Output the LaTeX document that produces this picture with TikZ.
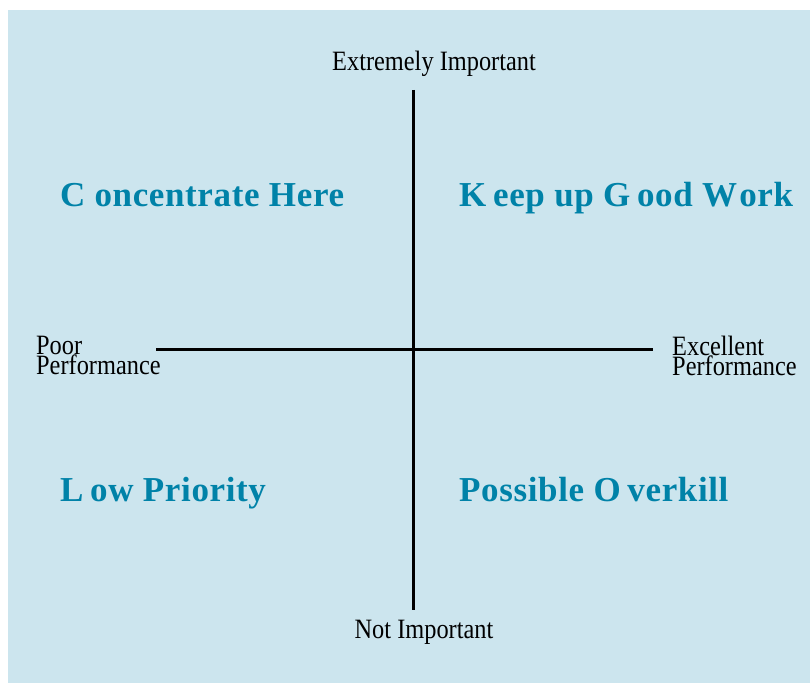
\documentclass[tikz,border=0pt]{standalone}
\usepackage{fontspec}
\setmainfont{Liberation Serif}
\newfontfamily\axisfont[FakeStretch=0.87]{Liberation Serif}
\newfontfamily\quadfont[LetterSpace=1.8]{Liberation Serif}
\definecolor{panelbg}{RGB}{204,229,238}
\definecolor{quadtext}{RGB}{0,130,168}
% extra space that follows some initial capitals
\newcommand{\capgap}{\kern0.26em}
\newcommand{\smallgap}{\kern0.19em}
\begin{document}
\begin{tikzpicture}[x=1bp,y=-1bp,
  axislabel/.style={inner sep=0pt,font=\axisfont\fontsize{28bp}{20bp}\selectfont,text=black},
  quadlabel/.style={inner sep=0pt,anchor=base west,font=\quadfont\bfseries\fontsize{35bp}{38bp}\selectfont,text=quadtext},
  axisline/.style={line width=3bp,black}]
\useasboundingbox (0,0) rectangle (810,683);
\fill[panelbg] (8,10) rectangle (810,683);

% axes
\coordinate (top) at (413,90);
\coordinate (bottom) at (413,610);
\coordinate (left) at (156,349);
\coordinate (right) at (653,349);
\draw[axisline] (top) -- (bottom);
\draw[axisline] (left) -- (right);

% axis end labels
\node[axislabel,anchor=base] (important) at (434,71) {Extremely Important};
\node[axislabel,anchor=base] (notimportant) at (424,638) {Not Important};
\node[axislabel,anchor=north west,align=left] (poor) at (36,336) {Poor\\Performance};
\node[axislabel,anchor=north west,align=left] (excellent) at (672,336) {Excellent\\Performance};

% quadrant captions
\node[quadlabel] (concentrate) at (60,206) {C\capgap oncentrate Here};
\node[quadlabel] (keepup) at (459,206) {K\smallgap eep up G\smallgap ood W\kern0.06em ork};
\node[quadlabel] (lowpriority) at (60,501) {L\smallgap ow Priority};
\node[quadlabel] (overkill) at (459,501) {Possible O\smallgap verkill};
\end{tikzpicture}
\end{document}
